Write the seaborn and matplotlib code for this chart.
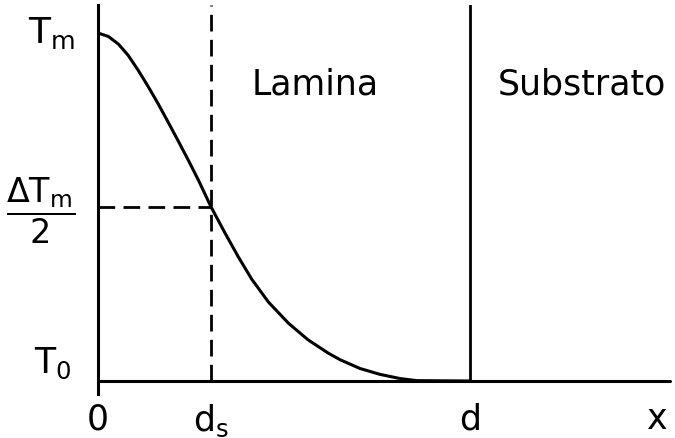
import matplotlib
matplotlib.use("Agg")
import matplotlib.pyplot as plt
import pandas as pd
import seaborn as sns

# Temperature profile through the film (normalised: T0 = 0, Tm = 1, film thickness d = 1)
x_pos = [0.0, 0.028, 0.055, 0.081, 0.108, 0.135, 0.162, 0.189, 0.216,
         0.243, 0.270, 0.304, 0.341, 0.377, 0.413, 0.458, 0.512, 0.565,
         0.619, 0.651, 0.704, 0.758, 0.812, 0.857, 1.0]
temp = [1.0, 0.990, 0.968, 0.936, 0.893, 0.846, 0.796, 0.743, 0.689,
        0.634, 0.577, 0.5, 0.426, 0.357, 0.293, 0.227, 0.166, 0.118,
        0.080, 0.061, 0.036, 0.019, 0.007, 0.001, 0.0]

d_s = 0.304          # depth where the profile drops to half of its maximum
d = 1.0              # film / substrate interface
half = 0.5           # Delta T_m / 2
x_end = 1.5376       # right end of the x axis
x_axis_name_pos = 1.503

x_tick_pos = [0.0, d_s, d, x_axis_name_pos]
x_tick_labels = ["0", r"$d_s$", "d", "x"]
region_labels = ["Lamina", "Substrato"]
level_labels = [r"$T_m$", r"$\dfrac{\Delta T_m}{2}$", r"$T_0$"]

sns.set_style("white")
plt.rcParams["font.family"] = ["DejaVu Sans"]
plt.rcParams["mathtext.fontset"] = "dejavusans"
plt.rcParams["mathtext.default"] = "regular"
plt.rcParams["text.color"] = "black"
plt.rcParams["xtick.color"] = "black"
plt.rcParams["xtick.labelcolor"] = "black"

fig = plt.figure(figsize=(6.75, 4.38), dpi=100)
ax = fig.add_axes([98 / 675, 44 / 438, 572 / 675, 389 / 438])

df = pd.DataFrame({"x": x_pos, "T": temp})
sns.lineplot(data=df, x="x", y="T", ax=ax, color="black", lw=2.2)

y_bottom, y_top = -0.0374, 1.0805
ax.set_xlim(0, x_end)
ax.set_ylim(y_bottom, y_top)
y0_frac = (0 - y_bottom) / (y_top - y_bottom)

# T0 baseline, interface and half-maximum construction
ax.plot([0, x_end], [0, 0], color="black", lw=2.2, clip_on=False)
ax.axvline(d, ymin=y0_frac, ymax=1, color="black", lw=2.0)
ax.axvline(d_s, ymin=y0_frac, ymax=1, color="black", lw=2.0,
           ls=(0, (6, 3)))
ax.plot([0, d_s], [half, half], color="black", lw=2.0, ls=(0, (6, 3)))

for side in ["top", "right", "bottom"]:
    ax.spines[side].set_visible(False)
ax.spines["left"].set_color("black")
ax.spines["left"].set_linewidth(2.2)

ax.set_yticks([])
ax.set_xticks(x_tick_pos)
ax.set_xticklabels(x_tick_labels, fontsize=25, color="black")
ax.tick_params(axis="x", length=0, pad=6, colors="black")
ax.set_xlabel("")
ax.set_ylabel("")

# Level labels on the temperature axis
ax.text(-0.062, 0.971, level_labels[0], ha="right", va="baseline",
        fontsize=26, color="black", clip_on=False)
ax.text(-0.062, 0.489, level_labels[1], ha="right", va="center",
        fontsize=24, color="black", clip_on=False)
ax.text(-0.070, 0.023, level_labels[2], ha="right", va="baseline",
        fontsize=25, color="black", clip_on=False)

# Region names
ax.text(0.583, 0.822, region_labels[0], ha="center", va="baseline",
        fontsize=25, color="black")
ax.text(1.301, 0.822, region_labels[1], ha="center", va="baseline",
        fontsize=25, color="black")

fig.savefig("out.png", dpi=100, facecolor="white")
